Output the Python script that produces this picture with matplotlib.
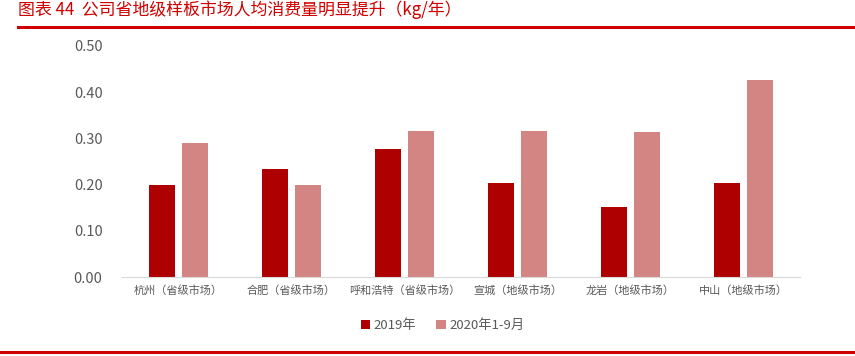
import numpy as np
import matplotlib.pyplot as plt
from matplotlib.lines import Line2D

plt.rcParams['font.family'] = ['Noto Sans CJK SC', 'DejaVu Sans']

cities = ['杭州（省级市场）', '合肥（省级市场）', '呼和浩特（省级市场）',
          '宣城（地级市场）', '龙岩（地级市场）', '中山（地级市场）']
v2019 = [0.20, 0.234, 0.277, 0.203, 0.152, 0.203]
v2020 = [0.29, 0.20, 0.316, 0.316, 0.314, 0.426]
series = ['2019年', '2020年1-9月']

c1 = '#AE0000'
c2 = '#D38584'
grey = '#595959'
red = '#D00000'

fig = plt.figure(figsize=(8.55, 3.56), dpi=100)
ax = fig.add_axes([0.1427, 0.2219, 0.793, 0.6489])

x = np.arange(len(cities))
w = 0.23
ax.bar(x - w / 2 - 0.027, v2019, w, color=c1, label=series[0])
ax.bar(x + w / 2 + 0.027, v2020, w, color=c2, label=series[1])

ax.set_xlim(-0.5, len(cities) - 0.5)
ax.set_ylim(0, 0.5)
ax.set_yticks(np.arange(0, 0.51, 0.1))
ax.set_yticklabels(['%.2f' % t for t in np.arange(0, 0.51, 0.1)],
                   fontsize=10.5, color=grey)
ax.set_xticks(x)
ax.set_xticklabels(cities, fontsize=8, color=grey)
ax.tick_params(axis='both', length=0)
ax.tick_params(axis='y', pad=14)
ax.tick_params(axis='x', pad=6)
for s in ['top', 'right', 'left']:
    ax.spines[s].set_visible(False)
ax.spines['bottom'].set_color('#D9D9D9')

ax.legend(loc='upper center', bbox_to_anchor=(0.473, -0.13), ncol=2,
          frameon=False, fontsize=9.5, handlelength=0.7, handleheight=0.7,
          handletextpad=0.3, columnspacing=1.5, labelcolor=grey)

fig.text(0.021, 0.972, '图表 44  公司省地级样板市场人均消费量明显提升（kg/年）',
         color=red, fontsize=12.2, va='center', ha='left')
fig.add_artist(Line2D([0.021, 1.0], [0.925, 0.925], color=red, lw=2.2))
fig.add_artist(Line2D([0.0, 1.0], [0.011, 0.011], color=red, lw=2.2))

fig.savefig('out.png', dpi=100)
